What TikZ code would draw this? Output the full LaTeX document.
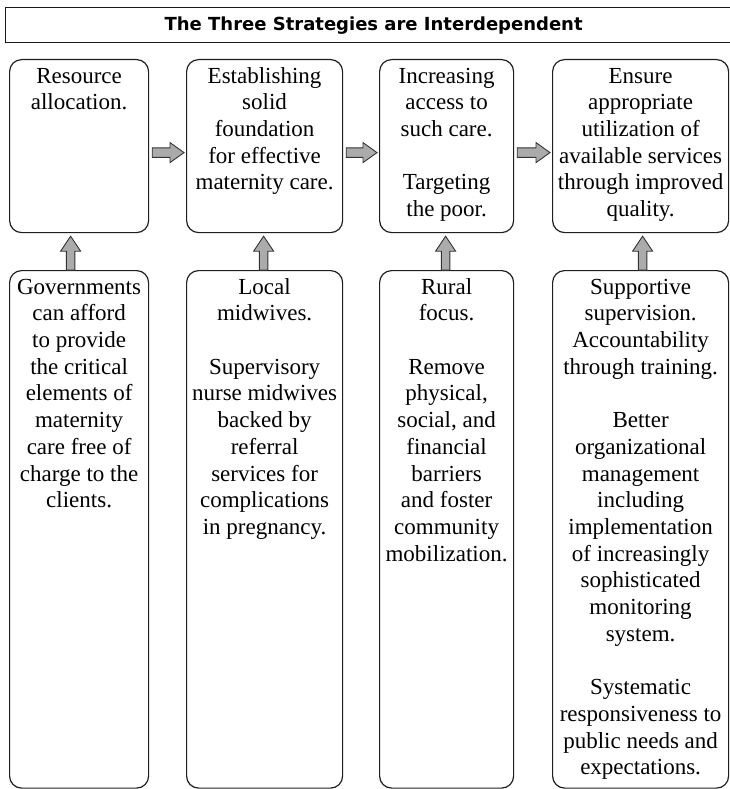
\documentclass[tikz,border=0pt]{standalone}
\usepackage{fontspec}
\setmainfont{Liberation Serif}
\newfontfamily\titlefont{DejaVu Sans}
\usetikzlibrary{calc}
\newcommand{\rightblk}[2]{%
  \draw[blk] let \p1=($(#1.east)+(3,6.5)$), \p2=($(#2.west)+(-2,6.5)$) in
    (\x1,\y1+4.7pt) -- (\x2-14pt,\y1+4.7pt) -- (\x2-14pt,\y1+10pt) -- (\x2,\y1)
    -- (\x2-14pt,\y1-10pt) -- (\x2-14pt,\y1-4.7pt) -- (\x1,\y1-4.7pt) -- cycle;}
\newcommand{\upblk}[3]{%
  \draw[blk] let \p1=($(#1.north)+(#3,0)$), \p2=($(#2.south)+(#3,3)$) in
    (\x1-4.3pt,\y1) -- (\x1-4.3pt,\y2-15pt) -- (\x1-10pt,\y2-15pt) -- (\x1,\y2)
    -- (\x1+10pt,\y2-15pt) -- (\x1+4.3pt,\y2-15pt) -- (\x1+4.3pt,\y1) -- cycle;}
\begin{document}
\begin{tikzpicture}[x=1pt,y=-1pt,
  box/.style={draw=black!88, line width=1.2pt, rounded corners=12pt, inner sep=0pt, anchor=north west},
  titlebox/.style={draw=black!90, line width=1.3pt, inner sep=0pt, anchor=north west,
    font=\titlefont\bfseries\fontsize{18}{20}\selectfont},
  txt/.style={font=\fontsize{23}{26.7}\selectfont, align=center, anchor=north, inner sep=0pt},
  blk/.style={draw=black!80, fill=black!33, line width=0.9pt, line join=miter}]
\useasboundingbox (0,0) rectangle (730,789);
\fill[white] (0,0) rectangle (730,789);

\node[titlebox, minimum width=736pt, minimum height=35pt] (title) at (5,7) {The Three Strategies are Interdependent};

% top row
\node[box, minimum width=139pt, minimum height=173pt] (t1) at (9,59) {};
\node[box, minimum width=156pt, minimum height=173pt] (t2) at (186,59) {};
\node[box, minimum width=134pt, minimum height=173pt] (t3) at (379,59) {};
\node[box, minimum width=176pt, minimum height=173pt] (t4) at (552,59) {};
% bottom row
\node[box, minimum width=139pt, minimum height=517.5pt] (b1) at (9,270) {};
\node[box, minimum width=156pt, minimum height=517.5pt] (b2) at (186,270) {};
\node[box, minimum width=134pt, minimum height=517.5pt] (b3) at (379,270) {};
\node[box, minimum width=176pt, minimum height=517.5pt] (b4) at (552,270) {};

% texts
\node[txt] (t1x) at ($(t1.north)+(0,5.3)$) {\strut Resource\\allocation.};
\node[txt] (t2x) at ($(t2.north)+(0,5.3)$) {\strut Establishing\\solid\\foundation\\for effective\\maternity care.};
\node[txt] (t3x) at ($(t3.north)+(0,5.3)$) {\strut Increasing\\access to\\such care.\\[26.7pt]Targeting\\the poor.};
\node[txt] (t4x) at ($(t4.north)+(0,5.3)$) {\strut Ensure\\appropriate\\utilization of\\available services\\through improved\\quality.};

\node[txt] (b1x) at ($(b1.north)+(0,5.3)$) {\strut Governments\\can afford\\to provide\\the critical\\elements of\\maternity\\care free of\\charge to the\\clients.};
\node[txt] (b2x) at ($(b2.north)+(0,5.3)$) {\strut Local\\midwives.\\[26.7pt]Supervisory\\nurse midwives\\backed by\\referral\\services for\\complications\\in pregnancy.};
\node[txt] (b3x) at ($(b3.north)+(0,5.3)$) {\strut Rural\\focus.\\[26.7pt]Remove\\physical,\\social, and\\financial\\barriers\\and foster\\community\\mobilization.};
\node[txt] (b4x) at ($(b4.north)+(0,5.3)$) {\strut Supportive\\supervision.\\Accountability\\through training.\\[26.7pt]Better\\organizational\\management\\including\\implementation\\of increasingly\\sophisticated\\monitoring\\system.\\[26.7pt]Systematic\\responsiveness to\\public needs and\\expectations.};

% arrows
\rightblk{t1}{t2}
\rightblk{t2}{t3}
\rightblk{t3}{t4}
\upblk{b1}{t1}{-8.5}
\upblk{b2}{t2}{-1}
\upblk{b3}{t3}{-1}
\upblk{b4}{t4}{2}
\end{tikzpicture}
\end{document}
